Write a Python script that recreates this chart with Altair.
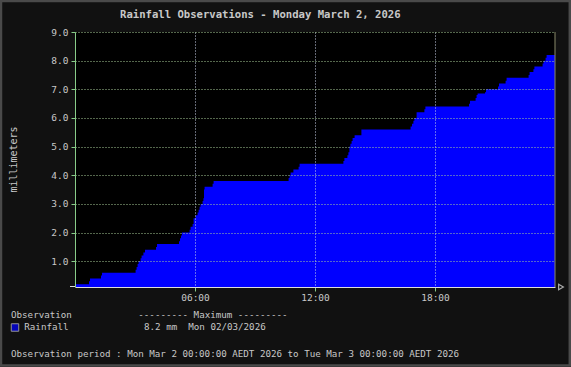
import altair as alt
import pandas as pd

# ---- data (hours since midnight, cumulative rainfall mm) ----
hours = [0, 0.7, 0.75, 1.3, 1.35, 3.03, 3.08, 3.13, 3.18, 3.28, 3.33, 3.42, 3.5,
         4.05, 4.1, 5.2, 5.25, 5.3, 5.35, 5.73, 5.78, 5.88, 5.93, 6.03, 6.13,
         6.18, 6.23, 6.28, 6.38, 6.42, 6.45, 6.48, 6.88, 6.93, 10.68, 10.73,
         10.78, 10.92, 11.18, 11.23, 13.42, 13.47, 13.62, 13.67, 13.72, 13.77,
         13.83, 13.88, 13.98, 14.32, 16.78, 16.85, 16.92, 16.97, 17.08, 17.47,
         17.52, 19.7, 19.75, 20.03, 20.08, 20.13, 20.5, 20.55, 21.15, 21.2,
         21.53, 21.58, 22.68, 22.73, 22.92, 22.97, 23.38, 23.43, 23.53, 23.58, 24]
rain = [0.2, 0.3, 0.4, 0.5, 0.6, 0.7, 0.8, 0.9, 1.0, 1.1, 1.2, 1.3, 1.4,
        1.5, 1.6, 1.7, 1.8, 1.9, 2.0, 2.1, 2.2, 2.3, 2.5, 2.6, 2.7,
        2.8, 2.9, 3.0, 3.1, 3.2, 3.5, 3.6, 3.7, 3.8, 3.9, 4.0,
        4.1, 4.2, 4.3, 4.4, 4.5, 4.6, 4.7, 4.8, 5.0, 5.1,
        5.2, 5.3, 5.4, 5.6, 5.7, 5.8, 5.9, 6.0, 6.2, 6.3,
        6.4, 6.5, 6.6, 6.7, 6.8, 6.85, 6.9, 7.0, 7.1, 7.2,
        7.3, 7.4, 7.5, 7.6, 7.7, 7.8, 7.9, 8.0, 8.1, 8.2, 8.2]

y_ticks = [1, 2, 3, 4, 5, 6, 7, 8, 9]
x_ticks = [6, 12, 18]

title_text = "Rainfall Observations - Monday March 2, 2026"
legend_header = "Observation"
legend_max_header = "--------- Maximum ---------"
series_name = "Rainfall"
series_max = "8.2 mm\u00a0\u00a0Mon 02/03/2026"
period_text = "Observation period : Mon Mar 2 00:00:00 AEDT 2026 to Tue Mar 3 00:00:00 AEDT 2026"

MONO = "DejaVu Sans Mono"
TXT = "#c8c8c8"
W, H = 480, 255

df = pd.DataFrame({"h": hours, "mm": rain})

xscale = alt.Scale(domain=[0, 24], nice=False, zero=False)
yscale = alt.Scale(domain=[0.1, 9.0], nice=False, zero=False)

area = alt.Chart(df).mark_area(interpolate="step-after", color="#0000ff", clip=True).encode(
    x=alt.X("h:Q", scale=xscale, axis=alt.Axis(
        values=x_ticks, tickCount=24, labelExpr="(datum.value < 10 ? '0' : '') + datum.value + ':00'",
        grid=True, gridColor="#c8d0e8", gridDash=[1, 2], gridWidth=1,
        domainColor="#dddddd", tickColor="#88cc88", tickSize=4,
        labelColor=TXT, labelFont=MONO, labelFontSize=9.5, labelPadding=1,
        labelOverlap=False, title=None, zindex=1)),
    y=alt.Y("mm:Q", scale=yscale, axis=alt.Axis(
        values=y_ticks, tickCount=20, format=".1f", grid=True, gridColor="#a8cc98",
        gridDash=[1, 2], gridWidth=1, domainColor="#88cc88", tickColor="#88cc88",
        tickSize=4, labelColor=TXT, labelFont=MONO, labelFontSize=9.5,
        labelPadding=3, labelOverlap=False, title="millimeters", titleColor=TXT,
        titleFont=MONO, titleFontWeight="normal", titleFontSize=10, titleAngle=270,
        titleX=-62, titleY=127, titleAlign="center", titleBaseline="middle",
        zindex=1)),
)

right_line = alt.Chart(pd.DataFrame({"h": [24]})).mark_rule(color="#8a8a6a").encode(
    x=alt.X("h:Q", scale=xscale), y=alt.value(0), y2=alt.value(H))

arrow = alt.Chart(pd.DataFrame({"h": [24], "mm": [0.1]})).mark_point(
    shape="triangle-right", filled=False, stroke="#eeeeee", size=30, xOffset=6, strokeWidth=1.2
).encode(x=alt.X("h:Q", scale=xscale), y=alt.Y("mm:Q", scale=yscale))

low_tick = alt.Chart(pd.DataFrame({"a": [0]})).mark_rule(color="#dddddd").encode(
    x=alt.value(-5), x2=alt.value(0), y=alt.value(H - 0.5))


def label(text, x, y, size=9.2, weight="normal", align="left"):
    return alt.Chart(pd.DataFrame({"t": [text]})).mark_text(
        font=MONO, fontSize=size, fontWeight=weight, color=TXT, align=align,
        baseline="middle").encode(text="t:N", x=alt.value(x), y=alt.value(y))


title = label(title_text, 45, -17.5, size=10.6, weight="bold")
obs = label(legend_header, -64, 282.7)
maxh = label(legend_max_header, 63.3, 282.7)
rname = label(series_name, -50.7, 295.3)
rmax = label(series_max, 69, 295.3)
period = label(period_text, -64, 321.5)

swatch = alt.Chart(pd.DataFrame({"a": [0]})).mark_point(
    shape="square", filled=True, fill="#0000ff", stroke="#cccccc", strokeWidth=1, size=56
).encode(x=alt.value(-60), y=alt.value(295.5))

frame = alt.Chart(pd.DataFrame({"a": [0]})).mark_rect(
    fill=None, stroke="#4a4a4a", strokeWidth=2.5
).encode(x=alt.value(-75 + 1), x2=alt.value(W + 16 - 1.2), y=alt.value(-32 + 1), y2=alt.value(H + 80 - 1.5))

chart = alt.layer(area, right_line, arrow, low_tick, title, obs, maxh, rname, rmax, period, swatch, frame).properties(
    width=W, height=H,
    autosize=alt.AutoSizeParams(type="none"),
    padding={"left": 75, "top": 32, "right": 16, "bottom": 80},
    background="#111111",
).configure_view(fill="#000000", stroke=None)

chart.save("out.html", embed_options={"renderer": "svg", "actions": False})
